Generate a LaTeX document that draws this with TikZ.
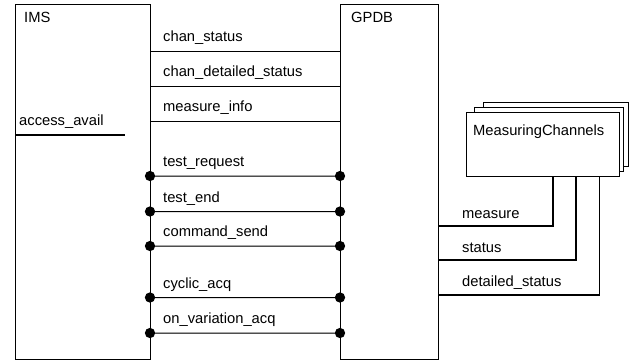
\documentclass[tikz,border=0pt]{standalone}
\usepackage{fontspec}
\setmainfont{Liberation Sans}
\begin{document}
\begin{tikzpicture}[x=1bp,y=-1bp,
  every node/.style={font=\fontsize{14.8}{17}\selectfont},
  blk/.style={draw=black, line width=1bp, outer sep=0pt, inner sep=0pt, anchor=north west, fill=white},
  txt/.style={anchor=base west, inner sep=0pt},
  wire/.style={draw=black, line width=1bp},
  dwire/.style={draw=black, fill=black, line width=1bp},
  chan/.style={draw=black, line width=1.6bp},
  dot/.style={radius=4.6bp}]
\useasboundingbox (0,0) rectangle (630,360);

% blocks
\node[blk, minimum width=135bp, minimum height=355bp] (IMS) at (15,4) {};
\node[blk, minimum width=98bp, minimum height=355bp] (GPDB) at (340,4) {};
\node[txt] (imsl) at (24,22.7) {IMS};
\node[txt] (gpdbl) at (351,22.7) {GPDB};

% access_avail
\draw[line width=2.8bp] (IMS.north west |- 0,135) -- (125,135) coordinate (aaend);
\node[txt] (aal) at (19,125) {access\_avail};

% plain flows
\foreach \yy/\lab/\nm in {51/chan\_status/a, 86/chan\_detailed\_status/b, 121/measure\_info/c}{
  \draw[wire] (IMS.north east |- 0,\yy) -- (GPDB.north west |- 0,\yy);
  \node[txt] (l\nm) at (163,\yy-9.5) {\lab};
}

% dotted flows
\foreach \yy/\lab/\nm in {176/test\_request/d, 211.5/test\_end/e, 246/command\_send/f, 297.5/cyclic\_acq/g, 333/on\_variation\_acq/h}{
  \filldraw[dwire] (IMS.north east |- 0,\yy) -- (GPDB.north west |- 0,\yy)
     (IMS.north east |- 0,\yy) circle[dot] (GPDB.north west |- 0,\yy) circle[dot];
  \node[txt] (l\nm) at (163,\yy-9.5) {\lab};
}

% measuring channels (stack)
\node[blk, minimum width=145bp, minimum height=64bp] (mcback) at (483,102) {};
\node[blk, minimum width=149bp, minimum height=64bp] (mcmid) at (474,107) {};
\node[blk, minimum width=153bp, minimum height=64bp] (mc) at (466,112) {};
\node[txt] (mcl) at (473,135) {MeasuringChannels};

% channel connectors
\draw[chan] (GPDB.north east |- 0,226) -| ([xshift=87bp]mc.south west);
\draw[chan] (GPDB.north east |- 0,260) -| ([xshift=110bp]mc.south west);
\draw[chan] (GPDB.north east |- 0,294.7) -| ([xshift=133.5bp]mc.south west);
\node[txt] (lm) at (462,218.3) {measure};
\node[txt] (ls) at (462,252.7) {status};
\node[txt] (lds) at (462,286.7) {detailed\_status};
\end{tikzpicture}
\end{document}
